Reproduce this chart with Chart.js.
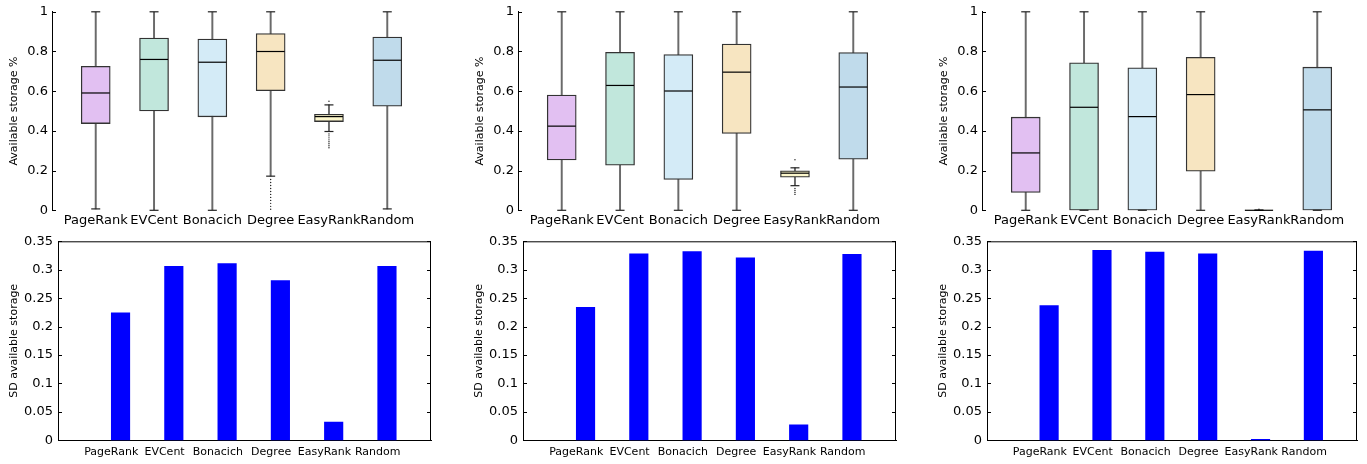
<!DOCTYPE html>
<html><head><meta charset="utf-8">
<script src="https://cdn.jsdelivr.net/npm/chart.js@4.4.1/dist/chart.umd.min.js"></script>
<style>
html,body{margin:0;padding:0;background:#fff;width:1367px;height:464px;overflow:hidden;position:relative}
canvas{position:absolute}
</style></head><body>
<canvas id="t1"></canvas><canvas id="t2"></canvas><canvas id="t3"></canvas>
<canvas id="b1"></canvas><canvas id="b2"></canvas><canvas id="b3"></canvas>
<script>
// ---------- DATA ----------
const categories = ['PageRank','EVCent','Bonacich','Degree','EasyRank','Random'];
const boxColors = ['#e2c0f2','#c1e7dc','#d4ebf7','#f7e5c1','#fbf6cb','#c0dbeb'];
const topYTicks = [0, 0.2, 0.4, 0.6, 0.8, 1];
const bottomYTicks = [0, 0.05, 0.1, 0.15, 0.2, 0.25, 0.3, 0.35];

// Scenario 1 box plots
const s1Low    = [0.007, 0, 0, 0.172, 0.397, 0.007];
const s1Q1     = [0.437, 0.501, 0.471, 0.603, 0.447, 0.524];
const s1Median = [0.591, 0.760, 0.746, 0.800, 0.472, 0.756];
const s1Q3     = [0.725, 0.868, 0.863, 0.890, 0.484, 0.873];
const s1High   = [1, 1, 1, 1, 0.531, 1];
const s1OutlierCat = [4,4,4,4,4,4,4,4,4,4,4, 5,5,5,5,5,5,5,5,5];
const s1OutlierVal = [0.155,0.14,0.125,0.11,0.095,0.08,0.065,0.05,0.035,0.02,0.005,
                      0.549,0.385,0.375,0.365,0.355,0.345,0.335,0.325,0.315];
// Scenario 2 box plots
const s2Low    = [0, 0, 0, 0, 0.124, 0];
const s2Q1     = [0.254, 0.227, 0.155, 0.387, 0.167, 0.257];
const s2Median = [0.424, 0.629, 0.601, 0.696, 0.187, 0.621];
const s2Q3     = [0.581, 0.796, 0.785, 0.838, 0.199, 0.795];
const s2High   = [1, 1, 1, 1, 0.214, 1];
const s2OutlierCat = [5,5,5,5,5];
const s2OutlierVal = [0.255,0.11,0.10,0.09,0.08];
// Scenario 3 box plots
const s3Low    = [0, 0, 0, 0, 0, 0];
const s3Q1     = [0.090, 0, 0, 0.197, 0, 0];
const s3Median = [0.289, 0.519, 0.472, 0.583, 0, 0.506];
const s3Q3     = [0.469, 0.743, 0.718, 0.771, 0.001, 0.721];
const s3High   = [1, 1, 1, 1, 0.001, 1];
const s3OutlierCat = [5];
const s3OutlierVal = [0.005];
// SD bars
const sd1 = [0.224, 0.306, 0.311, 0.281, 0.032, 0.306];
const sd2 = [0.234, 0.328, 0.332, 0.321, 0.027, 0.327];
const sd3 = [0.237, 0.334, 0.331, 0.328, 0.0015, 0.333];

// ---------- HELPERS ----------
const FONT = 'DejaVu Sans, Verdana, sans-serif';

const boxExtras = {
  id: 'boxExtras',
  afterDatasetsDraw(chart, args, opts) {
    if (!opts || !opts.median) return;
    const {ctx} = chart, xs = chart.scales.x, ys = chart.scales.y;
    ctx.save();
    opts.median.forEach((m, i) => {
      const cx = xs.getPixelForValue(i + 1);
      // caps
      ctx.strokeStyle = '#222'; ctx.lineWidth = 1.2;
      [opts.low[i], opts.high[i]].forEach(v => {
        const y = ys.getPixelForValue(v);
        ctx.beginPath(); ctx.moveTo(cx - 4.5, y); ctx.lineTo(cx + 4.5, y); ctx.stroke();
      });
      // median
      const my = ys.getPixelForValue(m);
      ctx.strokeStyle = '#000'; ctx.lineWidth = 1.2;
      ctx.beginPath(); ctx.moveTo(cx - 14, my); ctx.lineTo(cx + 14, my); ctx.stroke();
    });
    ctx.restore();
  }
};

const frameTicks = {
  id: 'frameTicks',
  afterDraw(chart, args, opts) {
    const {ctx, chartArea: a} = chart, ys = chart.scales.y;
    ctx.save();
    ctx.strokeStyle = '#000'; ctx.lineWidth = 1;
    ys.ticks.forEach(t => {
      const y = Math.round(ys.getPixelForValue(t.value)) + 0.5;
      ctx.beginPath(); ctx.moveTo(a.left, y); ctx.lineTo(a.left + 4, y); ctx.stroke();
      if (opts.frame) { ctx.beginPath(); ctx.moveTo(a.right, y); ctx.lineTo(a.right - 4, y); ctx.stroke(); }
    });
    if (opts.frame) {
      ctx.beginPath();
      ctx.moveTo(a.left, a.top + 0.5); ctx.lineTo(a.right, a.top + 0.5);
      ctx.moveTo(a.right - 0.5, a.top); ctx.lineTo(a.right - 0.5, a.bottom);
      ctx.stroke();
    }
    ctx.restore();
  }
};

function place(id, left, top, w, h) {
  const c = document.getElementById(id);
  c.width = w; c.height = h;
  c.style.left = left + 'px'; c.style.top = top + 'px';
  c.style.width = w + 'px'; c.style.height = h + 'px';
  return c;
}

function makeTop(id, axisX, low, q1, med, q3, high, oCat, oVal) {
  const yW = 52, plotW = 379, padR = 8;
  const left = Math.round(axisX - yW);
  const c = place(id, left, 0, yW + plotW + padR, 232);
  new Chart(c, {
    type: 'bar',
    data: {
      datasets: [
        { type: 'scatter', data: oCat.map((k, i) => ({x: k, y: oVal[i]})),
          pointRadius: 0.7, pointBackgroundColor: '#222', pointBorderWidth: 0, order: 0 },
        { data: categories.map((c, i) => ({x: i + 1, y: [q1[i], q3[i]]})),
          backgroundColor: boxColors, borderColor: '#333', borderWidth: 1.3, borderSkipped: false,
          barThickness: 29, grouped: false, order: 1 },
        { data: categories.map((c, i) => ({x: i + 1, y: [low[i], high[i]]})),
          backgroundColor: '#6a6a6a', borderWidth: 0, barThickness: 1.3, grouped: false, order: 2 }
      ]
    },
    options: {
      responsive: false, animation: false, devicePixelRatio: 1,
      layout: {padding: {left: 0, right: padR, top: 10.7, bottom: 0}},
      plugins: {legend: {display: false}, tooltip: {enabled: false},
        boxExtras: {median: med, low: low, high: high}, frameTicks: {frame: false}},
      scales: {
        x: { type: 'linear', min: 0.25, max: 6.75, offset: false,
          afterBuildTicks: s => { s.ticks = categories.map((c, i) => ({value: i + 1})); },
          afterFit: s => { s.height = 21.7; },
          ticks: { callback: (v, i) => categories[i], autoSkip: false, maxRotation: 0, minRotation: 0,
            font: {family: FONT, size: 13}, color: '#000', padding: 3 },
          grid: {display: false, drawTicks: false}, border: {display: false} },
        y: { min: 0, max: 1,
          afterBuildTicks: s => { s.ticks = topYTicks.map(v => ({value: v})); },
          afterFit: s => { s.width = yW; },
          ticks: { callback: v => String(v), font: {family: FONT, size: 13}, color: '#000', padding: 4 },
          grid: {display: false, drawTicks: false}, border: {display: true, color: '#000', width: 1},
          title: {display: true, text: 'Available storage %', font: {family: FONT, size: 11}, color: '#000', padding: {top: 8, bottom: 0}} }
      }
    },
    plugins: [boxExtras, frameTicks]
  });
}

function makeBottom(id, axisX, rightX, sd) {
  const yW = 58, padR = 8;
  const left = Math.round(axisX - yW);
  const plotW = rightX - axisX;
  const c = place(id, left, 228, Math.round(yW + plotW + padR), 236);
  new Chart(c, {
    type: 'bar',
    data: {
      labels: ['', ...categories, ''],
      datasets: [
        { data: [null, ...categories.map(() => 0), null], backgroundColor: 'rgba(0,0,0,0)', borderWidth: 0, barThickness: 18.5 },
        { data: [null, ...sd, null], backgroundColor: '#0000ff', borderColor: '#4d4dff', borderWidth: 0, barThickness: 18.5 }
      ]
    },
    options: {
      responsive: false, animation: false, devicePixelRatio: 1,
      layout: {padding: {left: 0, right: Math.round(yW + plotW + padR) - yW - plotW - (axisX - yW - left), top: 13.3, bottom: 0}},
      plugins: {legend: {display: false}, tooltip: {enabled: false}, frameTicks: {frame: true}},
      scales: {
        x: { type: 'category', offset: false,
          afterFit: s => { s.height = 23.7; },
          ticks: { autoSkip: false, maxRotation: 0, minRotation: 0, font: {family: FONT, size: 11}, color: '#000', padding: 5 },
          grid: {display: false, drawTicks: false}, border: {display: true, color: '#000', width: 1} },
        y: { min: 0, max: 0.35,
          afterBuildTicks: s => { s.ticks = bottomYTicks.map(v => ({value: v})); },
          afterFit: s => { s.width = yW; },
          ticks: { callback: v => String(+v.toFixed(2)), font: {family: FONT, size: 13}, color: '#000', padding: 5 },
          grid: {display: false, drawTicks: false}, border: {display: true, color: '#000', width: 1},
          title: {display: true, text: 'SD available storage', font: {family: FONT, size: 11}, color: '#000', padding: {top: 8, bottom: 0}} }
      }
    },
    plugins: [frameTicks]
  });
}

makeTop('t1', 52, s1Low, s1Q1, s1Median, s1Q3, s1High, s1OutlierCat, s1OutlierVal);
makeTop('t2', 518, s2Low, s2Q1, s2Median, s2Q3, s2High, s2OutlierCat, s2OutlierVal);
makeTop('t3', 982, s3Low, s3Q1, s3Median, s3Q3, s3High, s3OutlierCat, s3OutlierVal);
makeBottom('b1', 58, 431, sd1);
makeBottom('b2', 523, 896, sd2);
makeBottom('b3', 987, 1357, sd3);
</script>
</body></html>
